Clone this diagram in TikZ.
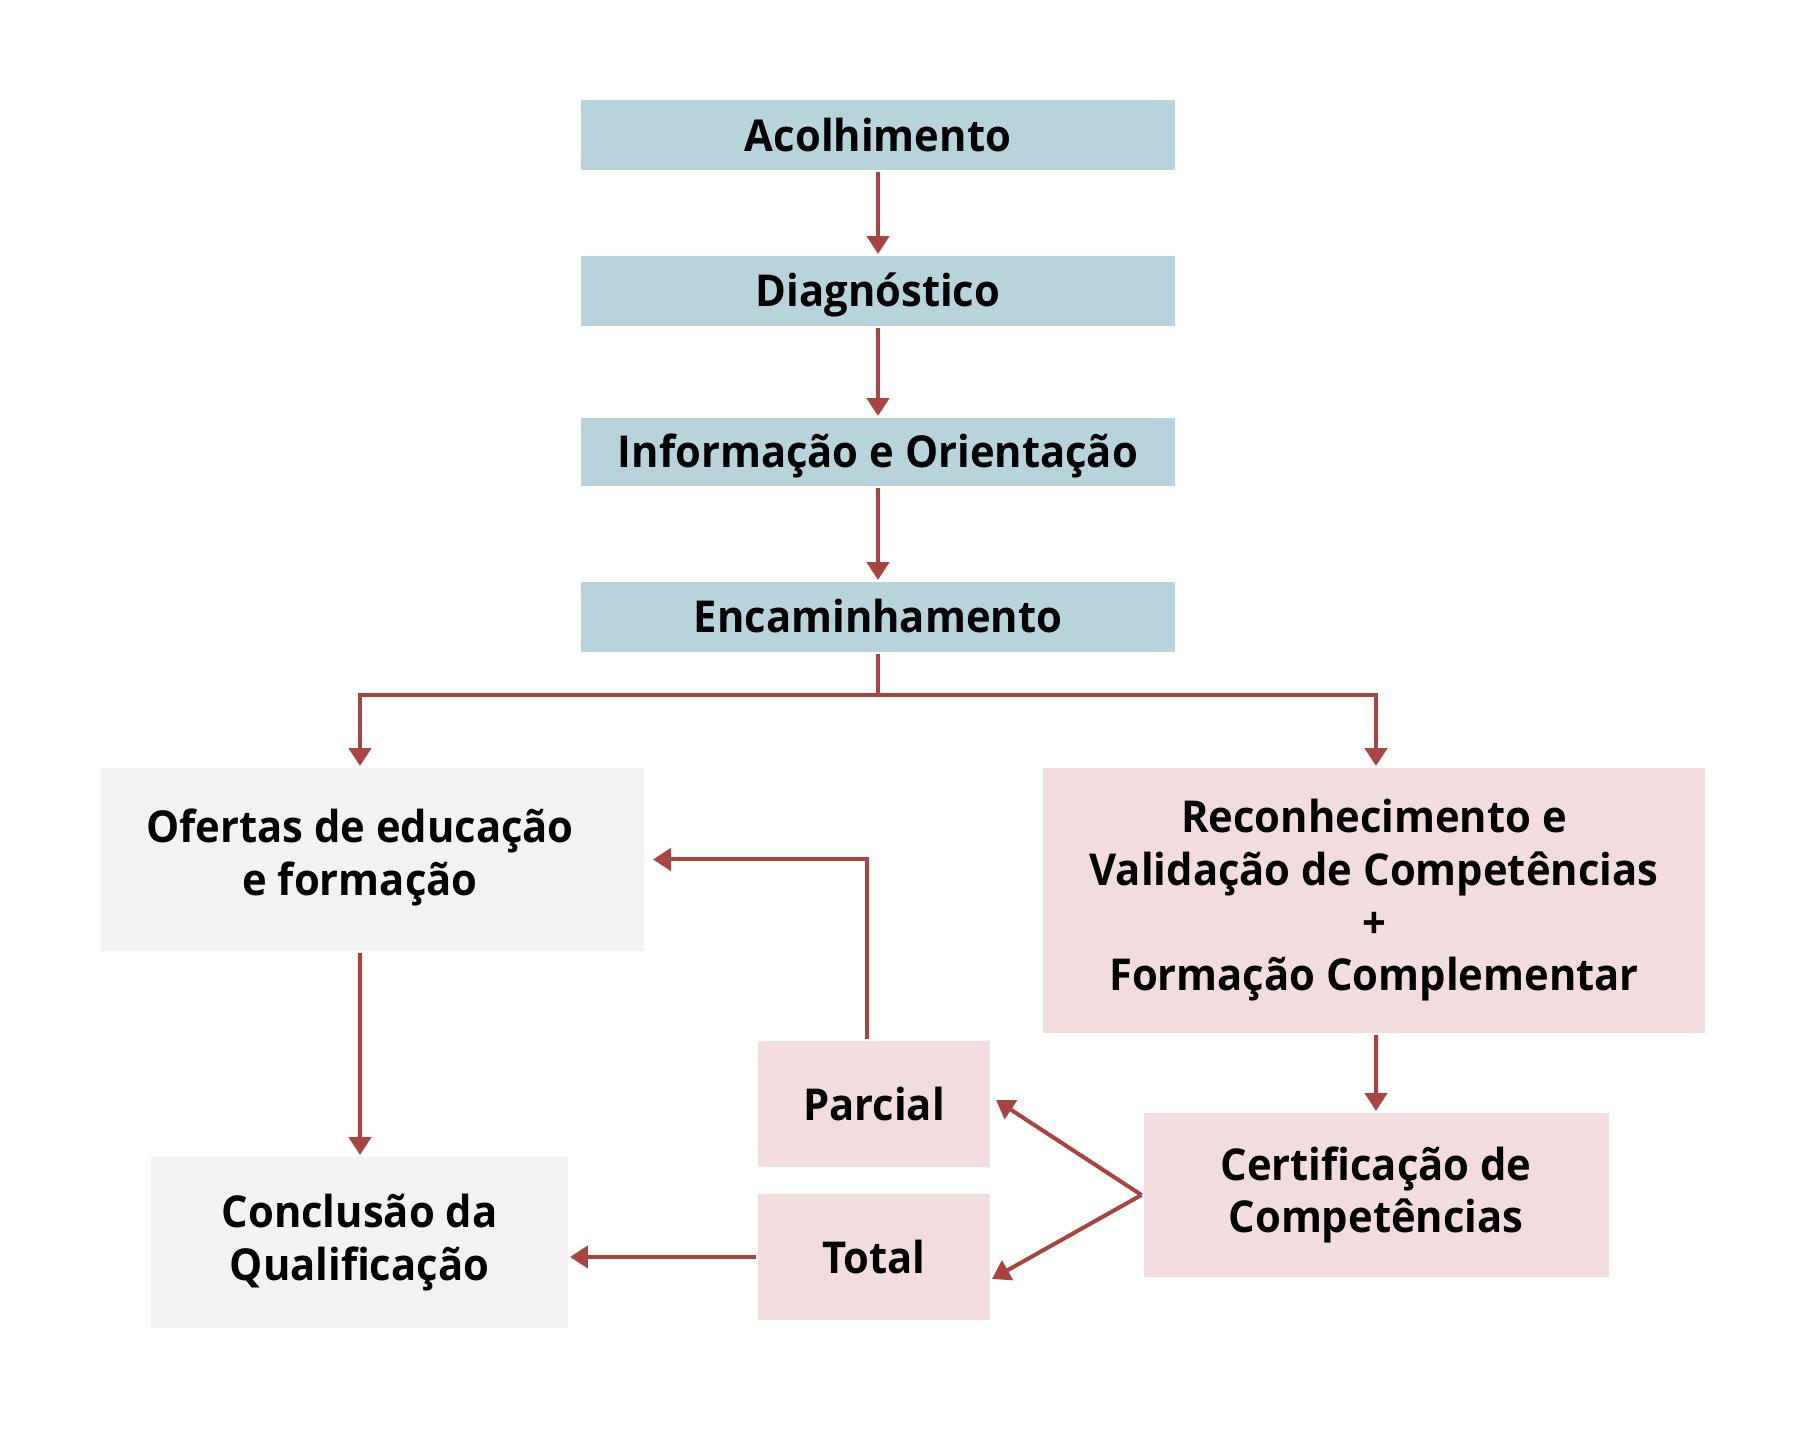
\documentclass[tikz,border=0pt]{standalone}
\usepackage{fontspec}
\setmainfont{Open Sans}[BoldFont={Open Sans Bold}, FakeStretch=0.95]
\usetikzlibrary{arrows.meta,calc}
\definecolor{boxblue}{RGB}{183,212,220}
\definecolor{boxpink}{RGB}{242,220,221}
\definecolor{boxgrey}{RGB}{242,242,242}
\definecolor{linkred}{RGB}{170,68,66}
\begin{document}
\begin{tikzpicture}[line width=1.14pt, >={Triangle[length=5.1pt,width=6.3pt]},
    stage/.style={fill=boxblue, inner sep=0pt, minimum width=5.94cm, minimum height=0.7cm, text height=8.9pt, text depth=0pt, font=\fontsize{12.5}{15}\bfseries},
    route/.style={fill=#1, inner sep=0pt, align=center, font=\fontsize{12.5}{15}\bfseries},
    link/.style={->, draw=linkred}]
\useasboundingbox (0,0) rectangle (18,-14.33);
% Top sequence
\node[stage] (acol) at (8.78,-1.355) {Acolhimento};
\node[stage] (diag) at (8.78,-2.91) {Diagnóstico};
\node[stage, minimum height=0.68cm] (info) at (8.78,-4.52) {Informação e Orientação};
\node[stage] (enc) at (8.78,-6.17) {Encaminhamento};
% Left branch
\node[route=boxgrey, minimum width=5.43cm, minimum height=1.83cm] (ofe) at (3.725,-8.595) {};
\node[route=none, inner sep=0pt] (ofetext) at ($(ofe.center)+(-0.125,0.02)$) {Ofertas de educação\\e formação};
\node[route=boxgrey, minimum width=4.17cm, minimum height=1.71cm] (concl) at (3.595,-12.425) {Conclusão da\\Qualificação};
% Right branch
\node[route=boxpink, minimum width=6.62cm, minimum height=2.65cm] (rvc) at (13.74,-9.005) {Reconhecimento e\\Validação de Competências\\+\\Formação Complementar};
\node[route=boxpink, minimum width=4.65cm, minimum height=1.64cm] (cert) at (13.76,-11.95) {Certificação de\\Competências};
\node[route=boxpink, minimum width=2.32cm, minimum height=1.26cm] (parc) at (8.74,-11.04) {Parcial};
\node[route=boxpink, minimum width=2.32cm, minimum height=1.26cm] (tot) at (8.74,-12.57) {Total};
% Connectors
\draw[link] (acol) -- (diag);
\draw[link] (diag) -- (info);
\draw[link] (info) -- (enc);
\coordinate (fork) at (8.78,-6.95);
\draw[draw=linkred] (enc) -- (fork);
\draw[link] (fork) -| ($(ofe.north)+(-0.125,0)$);
\draw[link] (fork) -| ($(rvc.north)+(0.02,0)$);
\draw[link] ($(ofe.south)+(-0.125,0)$) -- ($(concl.north)+(0.005,0)$);
\draw[link] ($(rvc.south)+(0.02,0)$) -- ($(cert.north)+(0,0)$);
\coordinate (tippar) at (9.96,-11.0);
\coordinate (tiptot) at (9.92,-12.79);
\draw[link] (cert.west) -- (tippar);
\draw[link] (cert.west) -- (tiptot);
\draw[link] ($(parc.north)+(-0.07,0)$) |- ($(ofe.east)+(0.07,0)$);
\draw[link] (tot.west) -- (tot.west -| concl.east);
\end{tikzpicture}
\end{document}
